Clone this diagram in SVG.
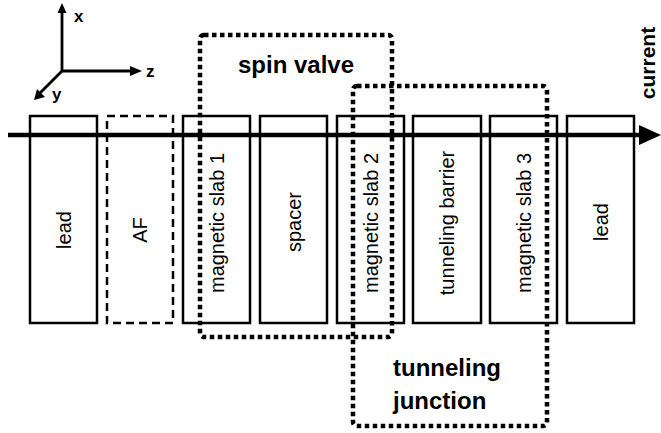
<svg xmlns="http://www.w3.org/2000/svg" width="661" height="433" viewBox="0 0 661 433">
<style>
.box{fill:none;stroke:#000;stroke-width:2.5}
.dash{stroke-dasharray:8 5}
.dot{fill:none;stroke:#000;stroke-width:4.5;stroke-dasharray:4.5 3.5}
.lbl{font-family:"Liberation Sans",Arial,sans-serif;font-size:20px;text-anchor:middle;fill:#000}
.big{font-family:"Liberation Sans",Arial,sans-serif;font-size:24px;font-weight:bold;fill:#000}
.ax{font-family:"Liberation Sans",Arial,sans-serif;font-size:17px;font-weight:bold;fill:#000}
.axl{stroke:#000;stroke-width:2.8;fill:none}
</style>
<rect width="661" height="433" fill="#fff"/>
<g id="axes">
<line class="axl" x1="62" y1="71" x2="62" y2="10"/>
<polygon points="62,3 57.5,13 66.5,13" fill="#000"/>
<line class="axl" x1="62" y1="71" x2="132" y2="71"/>
<polygon points="142,71 130,66 130,76" fill="#000"/>
<line class="axl" x1="62" y1="71" x2="39" y2="94"/>
<polygon points="34,100 37,89 45,97" fill="#000"/>
<text class="ax" x="74" y="22">x</text>
<text class="ax" x="146" y="77">z</text>
<text class="ax" x="52" y="100">y</text>
</g>
<g id="connectors">
<line x1="8" y1="135" x2="645" y2="135" stroke="#000" stroke-width="4.5"/>
<polygon points="661,135 639,125 639,145" fill="#000"/>
<text class="big" transform="translate(655,63) rotate(-90)" text-anchor="middle" style="font-size:21px">current</text>
</g>
<g id="lead1"><rect class="box" x="30" y="116" width="67" height="207"/><text class="lbl" transform="translate(70.5,230) rotate(-90)">lead</text></g>
<g id="af"><rect class="box dash" x="107" y="116" width="66" height="207"/><text class="lbl" transform="translate(147,230) rotate(-90)">AF</text></g>
<g id="mag1"><rect class="box" x="183" y="116" width="67" height="207"/><text class="lbl" transform="translate(223.5,223) rotate(-90)">magnetic slab 1</text></g>
<g id="spacer"><rect class="box" x="260" y="116" width="67" height="207"/><text class="lbl" transform="translate(300.5,222) rotate(-90)">spacer</text></g>
<g id="mag2"><rect class="box" x="337" y="116" width="67" height="207"/><text class="lbl" transform="translate(377.5,223) rotate(-90)">magnetic slab 2</text></g>
<g id="barrier"><rect class="box" x="413" y="116" width="68" height="207"/><text class="lbl" transform="translate(454,223) rotate(-90)">tunneling barrier</text></g>
<g id="mag3"><rect class="box" x="490" y="116" width="67" height="207"/><text class="lbl" transform="translate(530.5,223) rotate(-90)">magnetic slab 3</text></g>
<g id="lead2"><rect class="box" x="567" y="116" width="67" height="207"/><text class="lbl" transform="translate(607.5,222) rotate(-90)">lead</text></g>
<g id="spinvalve"><rect class="dot" x="200" y="35" width="192" height="302" rx="4"/><text class="big" x="296" y="73" text-anchor="middle">spin valve</text></g>
<g id="junction"><rect class="dot" x="353" y="86" width="194" height="340" rx="4"/><text class="big" x="393" y="376">tunneling</text><text class="big" x="393" y="409">junction</text></g>
</svg>
